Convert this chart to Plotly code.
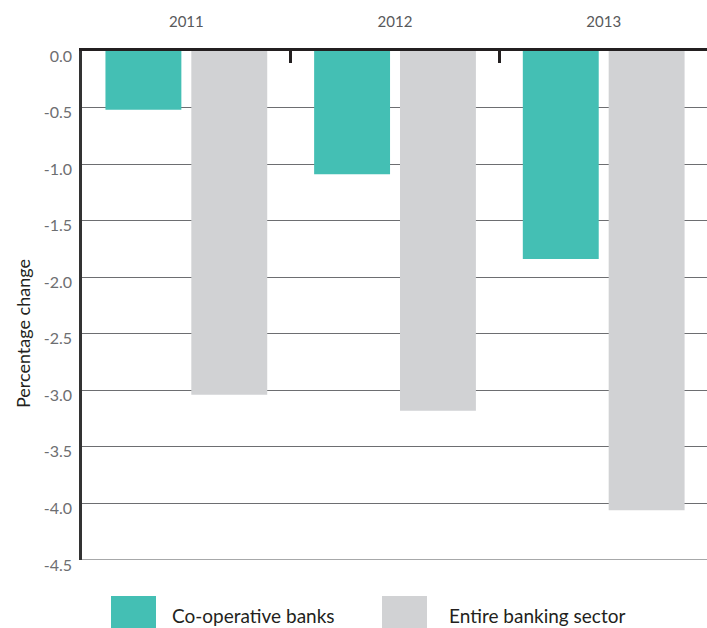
import plotly.graph_objects as go

# Annual percentage change by year
years = ["2011", "2012", "2013"]
coop_banks = [-0.52, -1.09, -1.84]
entire_sector = [-3.04, -3.18, -4.06]
y_ticks = [0.0, -0.5, -1.0, -1.5, -2.0, -2.5, -3.0, -3.5, -4.0, -4.5]
series_names = ["Co-operative banks", "Entire banking sector"]
y_title = "Percentage change"

TEAL = "#44bfb4"
GREY = "#d1d2d4"

L, R, T, B = 82, 0, 51, 68
W, H = 707, 628
PW, PH = W - L - R, H - T - B

fig = go.Figure()
fig.add_trace(go.Bar(x=years, y=coop_banks, name=series_names[0],
                     marker=dict(color=TEAL, line=dict(width=0)), showlegend=False))
fig.add_trace(go.Bar(x=years, y=entire_sector, name=series_names[1],
                     marker=dict(color=GREY, line=dict(width=0)), showlegend=False))

fig.update_layout(
    width=W, height=H,
    margin=dict(l=L, r=R, t=T, b=B),
    paper_bgcolor="white", plot_bgcolor="white",
    barmode="group", bargap=0.177, bargroupgap=0.116,
    font=dict(family="Lato, sans-serif", color="#58595b"),
    xaxis=dict(
        side="top", type="category", range=[-0.5, 2.495],
        showline=True, linecolor="#231f20", linewidth=2.5,
        ticks="inside", tickson="boundaries", ticklen=12, tickwidth=2.5, tickcolor="#231f20",
        tickfont=dict(size=15, color="#58595b"),
        ticklabelstandoff=15,
        showgrid=False, zeroline=False,
    ),
    yaxis=dict(
        range=[-4.5, 0], tickvals=y_ticks,
        ticktext=[f"{v:.1f}" for v in y_ticks],
        showline=True, linecolor="#333333", linewidth=2.5,
        showgrid=True, gridcolor="#6d6e71", gridwidth=1,
        zeroline=False, ticks="",
        tickfont=dict(size=16, color="#6d6e71"),
        ticklabelstandoff=4, ticklabelshift=5,
    ),
)

# Vertical axis title, set a little below the plot's midpoint
fig.add_annotation(xref="paper", yref="paper", x=(23 - L) / PW, y=(H - B - 334) / PH,
                   text=y_title, textangle=-90, showarrow=False,
                   xanchor="center", yanchor="middle",
                   font=dict(size=18, color="#231f20", family="Lato, sans-serif"))

# Bottom gridline at the lower edge of the value range
fig.add_shape(type="line", xref="paper", yref="y", x0=0, x1=1, y0=-4.5, y1=-4.5,
              line=dict(color="#8a8b8d", width=1.5), layer="below")

# Legend drawn as large swatches below the plot area
legend_items = [
    (series_names[0], TEAL, 111, 170),
    (series_names[1], GREY, 382, 447),
]
for name, color, x0, tx in legend_items:
    fig.add_shape(type="rect", xref="paper", yref="paper",
                  x0=(x0 - L) / PW, x1=(x0 + 45 - L) / PW,
                  y0=(H - B - 645) / PH, y1=(H - B - 596) / PH,
                  line=dict(width=0), fillcolor=color, layer="above")
    fig.add_annotation(xref="paper", yref="paper",
                       x=(tx - L) / PW, y=(H - B - 615) / PH,
                       text=name, showarrow=False, xanchor="left", yanchor="middle",
                       font=dict(size=19, color="#231f20", family="Lato, sans-serif"))

fig.write_html("out.html")
